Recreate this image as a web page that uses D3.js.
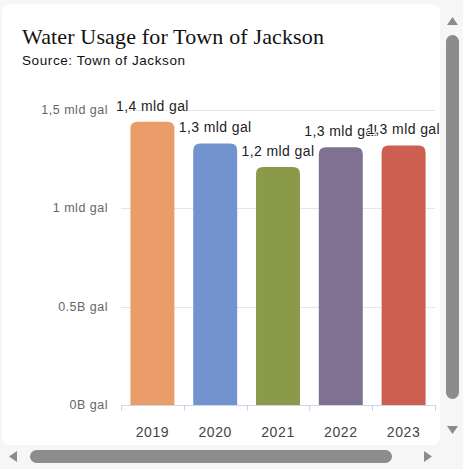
<!DOCTYPE html>
<html><head><meta charset="utf-8">
<script src="https://cdn.jsdelivr.net/npm/d3@7"></script>
<style>html,body{margin:0;padding:0;background:#f6f6f6;overflow:hidden}</style>
</head><body>
<svg id="c" width="463" height="469"></svg>
<script>
const categories = ["2019","2020","2021","2022","2023"];
const values = [1.44, 1.33, 1.21, 1.31, 1.32];
const dataLabels = ["1,4 mld gal","1,3 mld gal","1,2 mld gal","1,3 mld gal","1,3 mld gal"];
const colors = ["#ea9d68","#7393cf","#8b9a48","#807092","#cd5f51"];
const yTicks = [0, 0.5, 1, 1.5];
const yTickLabels = ["0B gal","0.5B gal","1 mld gal","1,5 mld gal"];

const svg = d3.select("#c");
const sans = "Liberation Sans, Arial, sans-serif";
// card
svg.append("rect").attr("x",2).attr("y",4).attr("width",438).attr("height",441).attr("rx",8).attr("fill","#fff");

const x = d3.scaleBand().domain(categories).range([121,435]).paddingInner(0.3).paddingOuter(0.15);
const y = d3.scaleLinear().domain([0,1.5]).range([405,110]);

// grid
svg.append("g").selectAll("line").data(yTicks.slice(1)).join("line")
  .attr("x1",121).attr("x2",435).attr("y1",d=>Math.round(y(d))+0.5).attr("y2",d=>Math.round(y(d))+0.5)
  .attr("stroke","#e6e6e6").attr("stroke-width",1);

// y labels
svg.append("g").selectAll("text").data(yTicks).join("text")
  .attr("x",108).attr("y",d=>y(d)+4).attr("text-anchor","end")
  .attr("font-family",sans).attr("font-size",12.5).attr("letter-spacing",0.5).attr("fill","#666")
  .text((d,i)=>yTickLabels[i]);

// x axis
const bounds = d3.range(categories.length+1).map(i => 121 + i*(314/5));
svg.append("line").attr("x1",121).attr("x2",435).attr("y1",405.5).attr("y2",405.5).attr("stroke","#ccd6eb");
svg.append("g").selectAll("line").data(bounds).join("line")
  .attr("x1",d=>Math.round(d)+0.5).attr("x2",d=>Math.round(d)+0.5).attr("y1",405).attr("y2",411).attr("stroke","#ccd6eb");
svg.append("g").selectAll("text").data(categories).join("text")
  .attr("x",d=>x(d)+x.bandwidth()/2).attr("y",437).attr("text-anchor","middle")
  .attr("font-family",sans).attr("font-size",14).attr("letter-spacing",0.6).attr("fill","#444")
  .text(d=>d);

// bars
function barPath(x0,w,yt,yb,r){
  return `M${x0},${yb}V${yt+r}Q${x0},${yt} ${x0+r},${yt}H${x0+w-r}Q${x0+w},${yt} ${x0+w},${yt+r}V${yb}Z`;
}
svg.append("g").selectAll("path").data(categories).join("path")
  .attr("d",(d,i)=>barPath(x(d),x.bandwidth(),y(values[i]),y(0),7))
  .attr("fill",(d,i)=>colors[i]);

// data labels
svg.append("g").selectAll("text").data(categories).join("text")
  .attr("x",d=>x(d)+x.bandwidth()/2).attr("y",(d,i)=>y(values[i])-11).attr("text-anchor","middle")
  .attr("font-family",sans).attr("font-size",14).attr("letter-spacing",0.4).attr("fill","#222")
  .attr("stroke","#fff").attr("stroke-width",2).attr("paint-order","stroke")
  .text((d,i)=>dataLabels[i]);

// title
svg.append("text").attr("x",22).attr("y",44).attr("font-family","Liberation Serif, Times New Roman, serif").attr("font-size",22).attr("letter-spacing",0.15).attr("fill","#111").text("Water Usage for Town of Jackson");
svg.append("text").attr("x",22).attr("y",65).attr("font-family",sans).attr("font-size",13.5).attr("letter-spacing",0.6).attr("fill","#111").text("Source: Town of Jackson");

// scrollbars
svg.append("rect").attr("x",446).attr("y",35).attr("width",13).attr("height",364).attr("rx",6.5).attr("fill","#8c8c8c");
svg.append("path").attr("d","M447,25L452.5,17L458,25Z").attr("fill","#8c8c8c");
svg.append("path").attr("d","M447,426L452.5,434L458,426Z").attr("fill","#8c8c8c");
svg.append("rect").attr("x",30).attr("y",450).attr("width",362).attr("height",13).attr("rx",6.5).attr("fill","#8c8c8c");
svg.append("path").attr("d","M17,451L9,456.5L17,462Z").attr("fill","#8c8c8c");
svg.append("path").attr("d","M424,451L432,456.5L424,462Z").attr("fill","#8c8c8c");
</script>
</body></html>
